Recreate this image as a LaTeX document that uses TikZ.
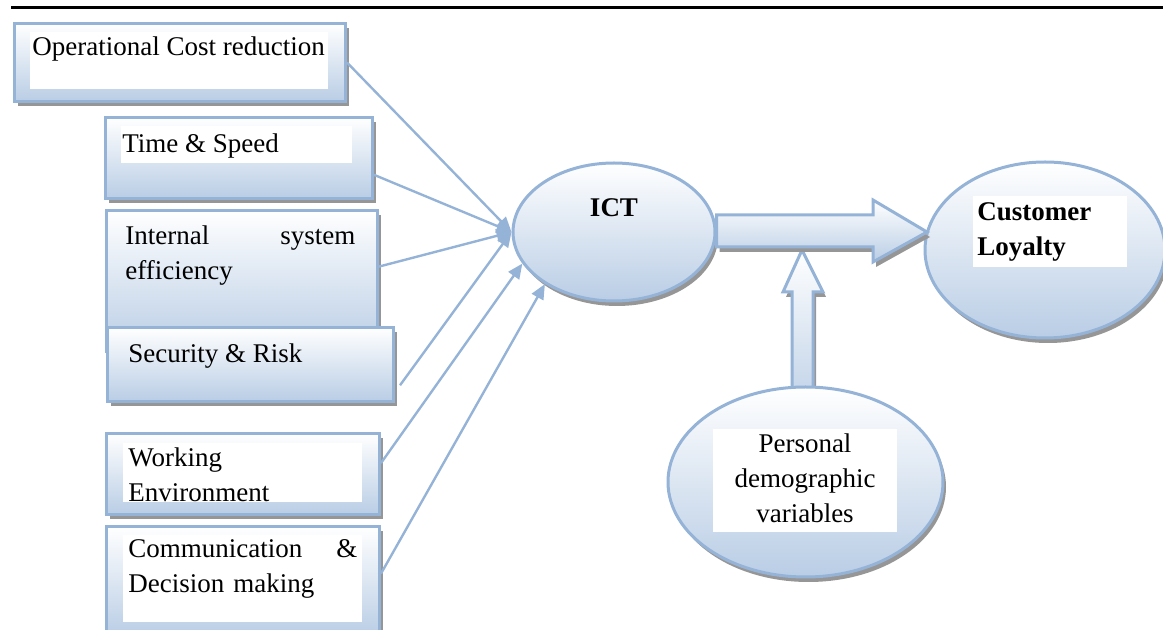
\documentclass[tikz,border=0pt]{standalone}
\usepackage{fontspec}
\setmainfont{Liberation Serif}
\usetikzlibrary{shapes.geometric,shadows,arrows.meta,calc}
\definecolor{bord}{RGB}{149,179,215}
\definecolor{fillb}{RGB}{185,205,229}
\definecolor{shad}{RGB}{150,150,150}
\begin{document}
\begin{tikzpicture}[x=0.5pt,y=-0.5pt,
  every node/.style={font=\fontsize{13.5}{17.5}\selectfont},
  shd/.style={drop shadow={shadow xshift=1.5pt,shadow yshift=-2.5pt,fill=shad,opacity=1}},
  box/.style={draw=bord,line width=1.5pt,top color=white,bottom color=fillb,inner sep=0pt,anchor=north west,shd},
  oval/.style={ellipse,draw=bord,line width=1.5pt,top color=white,bottom color=fillb,inner sep=0pt,shd},
  wbox/.style={fill=white,inner sep=0pt,anchor=north west},
  lbl/.style={inner sep=0pt,anchor=base west,align=left},
  conn/.style={draw=bord,line width=1.2pt,-{Triangle[length=7.5pt,width=6.5pt]}},
  blk/.style={draw=bord,line width=1.5pt,top color=white,bottom color=fillb,line join=miter,shd}
]
\clip (0,0) rectangle (1163,630);
% top rule
\draw[line width=1.5pt] (11,8) -- (1163,8);
% factor boxes
\node[box,minimum width=165.5pt,minimum height=39pt] (b1) at (13,22) {};
\node[box,minimum width=133.5pt,minimum height=40.5pt] (b2) at (104,116) {};
\node[box,minimum width=135.5pt,minimum height=70.5pt] (b3) at (105,209) {};
\node[box,minimum width=143pt,minimum height=37pt] (b4) at (106,326) {};
\node[box,minimum width=136.5pt,minimum height=40.5pt] (b5) at (105,432) {};
\node[box,minimum width=136.5pt,minimum height=55pt] (b6) at (105,525) {};
% white text backgrounds
\node[wbox,minimum width=149pt,minimum height=28.5pt] (w1) at (30,32) {};
\node[wbox,minimum width=115.5pt,minimum height=18.5pt] (w2) at (121,126) {};
\node[wbox,minimum width=119.5pt,minimum height=29.5pt] (w5) at (123,443) {};
\node[wbox,minimum width=119.5pt,minimum height=43.5pt] (w6) at (123,535) {};
% labels
\node[lbl] (t1) at (32,56) {Operational Cost reduction};
\node[lbl] (t2) at (122,153) {Time \& Speed};
\node[lbl,text width=115pt] (t3) at (125,245) {Internal\hfill system\\efficiency};
\node[lbl] (t4) at (128,363) {Security \& Risk};
\node[lbl,text width=117pt] (t5) at (128,467) {Working\\Environment};
\node[lbl,text width=114.5pt] (t6) at (128,558) {Communication\hfill\&\\Decision making};
% ICT
\node[oval,minimum width=101pt,minimum height=69pt] (ict) at (614,232) {};
\node[anchor=base,inner sep=0pt,font=\fontsize{13.5}{17.5}\selectfont\bfseries] (tict) at (614,217) {ICT};
% vertical block arrow from personal variables
\path[blk,top color=white,bottom color=fillb!80] (792,388) -- (792,292) -- (783,292) -- (802,250) -- (823,292) -- (813,292) -- (813,388) -- cycle;
% personal ellipse
\node[oval,minimum width=137.5pt,minimum height=95pt] (pdv) at (805.5,482) {};
\node[wbox,minimum width=92pt,minimum height=51.5pt] (wp) at (713,429) {};
\node[anchor=base,inner sep=0pt,text width=92pt,align=center] (tp) at (805,453) {Personal\\demographic\\variables};
% customer loyalty
\node[oval,minimum width=120pt,minimum height=88pt] (cl) at (1045,250) {};
\node[wbox,minimum width=77pt,minimum height=35.5pt] (wc) at (973,196) {};
\node[lbl,text width=75pt,font=\fontsize{13.5}{17.5}\selectfont\bfseries] (tc) at (977,221) {Customer\\Loyalty};
% horizontal block arrow ICT -> Customer Loyalty
\path[blk] (ict.east |- 0,215) -- (873,215) -- (873,200) -- (927,232) -- (873,262) -- (873,247) -- (ict.east |- 0,247) -- cycle;
% connectors
\draw[conn] (b1.east) -- (ict.west);
\draw[conn] ($(b2.north east)!0.7!(b2.south east)$) -- (ict.west);
\draw[conn] ($(b3.north east)!0.4!(b3.south east)$) -- (ict.west);
\draw[conn] ($(b4.north east)!0.77!(b4.south east)+(5,0)$) -- (ict.west);
\draw[conn] ($(b5.north east)!0.37!(b5.south east)$) -- (ict.199);
\draw[conn] ($(b6.north east)!0.43!(b6.south east)$) -- (ict.217);
\end{tikzpicture}
\end{document}
